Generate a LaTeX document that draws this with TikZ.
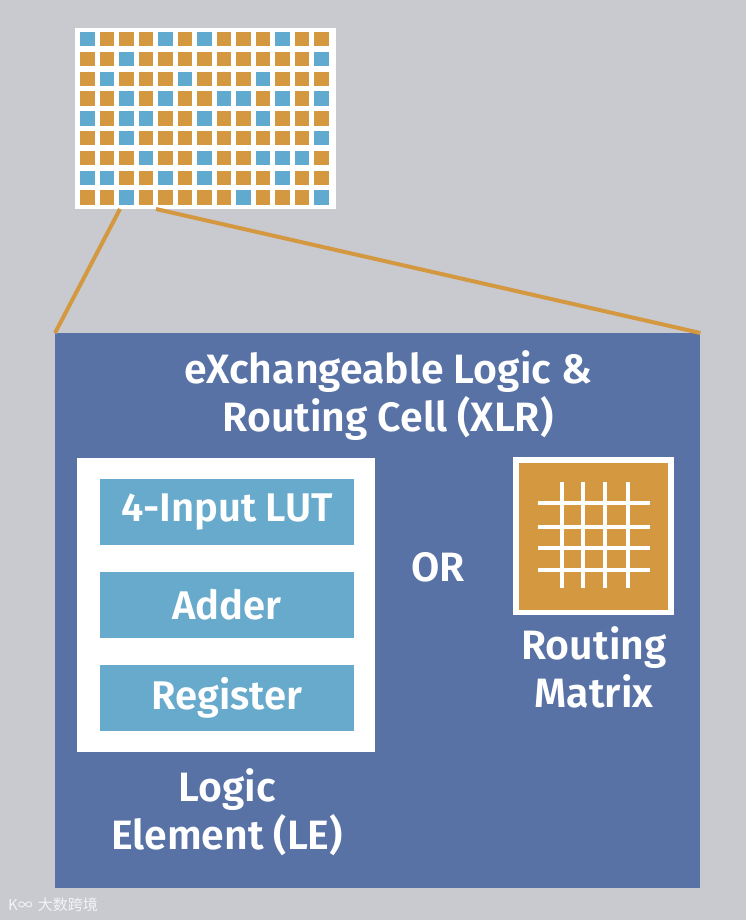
\documentclass[tikz,border=0pt]{standalone}
\usepackage{fontspec}
\setmainfont{Fira Sans}[BoldFont={Fira Sans SemiBold}]
\newfontfamily\cjk{Noto Sans CJK SC}
\definecolor{bg}{RGB}{200,202,208}
\definecolor{xblue}{RGB}{88,114,166}
\definecolor{xorange}{RGB}{212,152,64}
\definecolor{cellblue}{RGB}{96,170,208}
\definecolor{barblue}{RGB}{104,170,204}
\begin{document}
\begin{tikzpicture}[x=1pt,y=-1pt,
  lbl/.style={text=white,font=\fontsize{41}{48}\selectfont\bfseries,align=center},
  barbox/.style={fill=barblue,draw=none,minimum width=254pt,minimum height=66pt,text=white,font=\fontsize{40}{48}\selectfont\bfseries},
  zoomline/.style={draw=xorange,line width=4pt}]
\useasboundingbox (0,0) rectangle (746,920);
\fill[bg] (0,0) rectangle (746,920);
% grid
\fill[white] (75,28) rectangle (336,209);
\coordinate (gl) at (120,209);
\coordinate (gr) at (156,209);
\foreach \r in {0,...,8}{
  \foreach \c in {0,...,12}{
    \fill[xorange] ({80+\c*19.5},{32+\r*19.8}) rectangle ++(14.5,14.5);
  }
}
\foreach \r/\cols in {0/{0,4,6,10},1/{2,12},2/{1,5,9},3/{2,4,7,8,10,12},4/{0,2,3,6,9},5/{2,12},6/{3,6,9,10,11},7/{0,1,4,6,10},8/{2,8,12}}{
  \foreach \c in \cols{
    \fill[cellblue] ({80+\c*19.5},{32+\r*19.8}) rectangle ++(14.5,14.5);
  }
}
% main box
\node[fill=xblue,minimum width=645pt,minimum height=555pt,anchor=north west,inner sep=0pt] (xlr) at (55,333) {};
\draw[zoomline] (gl) -- (xlr.north west);
\draw[zoomline] (gr) -- (xlr.north east);
\node[lbl] (title) at (388,396) {eXchangeable Logic \&\\Routing Cell (XLR)};
% LE
\node[fill=white,minimum width=298pt,minimum height=294pt,inner sep=0pt] (le) at (226,605) {};
\node[barbox] (lut) at (227,512) {4-Input LUT};
\node[barbox] (adder) at (227,605) {Adder};
\node[barbox] (reg) at (227,698) {Register};
\node[lbl] (lelbl) at (227,812) {Logic\\Element (LE)};
\node[lbl] (or) at (438,567) {OR};
% routing matrix
\node[fill=white,minimum width=161pt,minimum height=158pt,inner sep=0pt] (rmo) at (593.5,536) {};
\node[fill=xorange,minimum width=149pt,minimum height=147pt,inner sep=0pt] (rm) at (593.5,536) {};
\foreach \x in {562,583,605,628}{\draw[white,line width=4pt] (\x,482) -- (\x,588);}
\foreach \y in {503,527,548,570}{\draw[white,line width=4pt] (538,\y) -- (650,\y);}
\node[lbl] (rmlbl) at (594,667) {Routing\\Matrix};
% watermark
\node[text=white!80!bg,font=\cjk\fontsize{15}{17}\selectfont,anchor=west,inner sep=0pt] (wm) at (8,905) {K∞\hspace{5pt}大数跨境};
\end{tikzpicture}
\end{document}
